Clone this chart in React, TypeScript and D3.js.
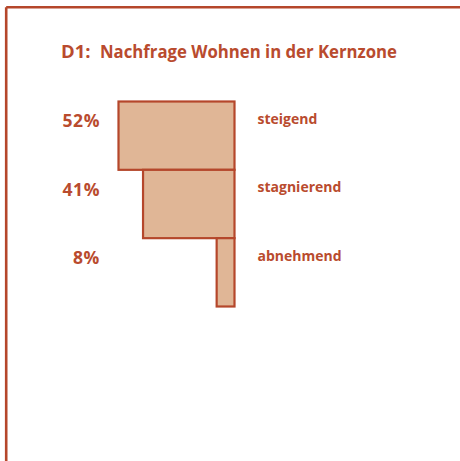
import React from "react";
import * as d3 from "d3";

const categories = ["steigend", "stagnierend", "abnehmend"];
const values = [52, 41, 8];
const valueLabels = ["52%", "41%", "8%"];
const titleCode = "D1:";
const titleText = "Nachfrage Wohnen in der Kernzone";

const W = 460;
const H = 461;
const RED = "#b5472b";
const FILL = "#e0b696";
const TEXT = "#b94b2e";
const FONT = "'Open Sans', 'Noto Sans', sans-serif";

export default function App() {
  const right = 234.5;
  const x = d3.scaleLinear().domain([0, 52]).range([0, 116]);
  const y = d3.scaleBand<string>().domain(categories).range([101.5, 306.5]).padding(0);

  return (
    <svg
      width={W}
      height={H}
      style={{ position: "absolute", left: 0, top: 0, background: "#fff" }}
    >
      <line x1={6.2} y1={7.2} x2={W} y2={7.2} stroke={RED} strokeWidth={2.6} />
      <line x1={6.2} y1={7.2} x2={6.2} y2={H} stroke={RED} strokeWidth={2.6} />
      <text x={61} y={57.5} fill={TEXT} fontFamily={FONT} fontWeight={700} fontSize={18.5}>
        {titleCode}
      </text>
      <text
        x={100}
        y={57.5}
        fill={TEXT}
        fontFamily={FONT}
        fontWeight={700}
        fontSize={18.5}
        textLength={297}
        lengthAdjust="spacingAndGlyphs"
      >
        {titleText}
      </text>
      {categories.map((c, i) => {
        const y0 = y(c)!;
        const w = x(values[i]);
        return (
          <g key={c}>
            <rect
              x={right - w}
              y={y0}
              width={w}
              height={y.bandwidth()}
              fill={FILL}
              stroke={RED}
              strokeWidth={2.2}
            />
            <text
              x={100}
              y={y0 + 25.8}
              textAnchor="end"
              fill={TEXT}
              fontFamily={FONT}
              fontWeight={700}
              fontSize={17.5}
              letterSpacing={0.6}
            >
              {valueLabels[i]}
            </text>
            <text
              x={257.5}
              y={y0 + 22.5}
              fill={TEXT}
              fontFamily={FONT}
              fontWeight={700}
              fontSize={14}
            >
              {c}
            </text>
          </g>
        );
      })}
    </svg>
  );
}
